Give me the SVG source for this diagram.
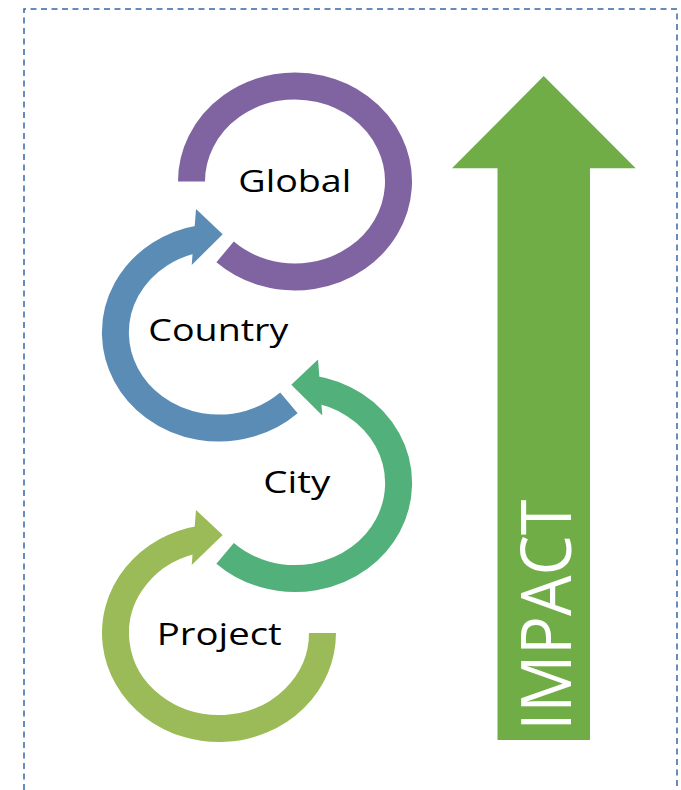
<svg xmlns="http://www.w3.org/2000/svg" width="681" height="790" viewBox="0 0 681 790">
<style>
.ring{fill:none;stroke-width:27;stroke-linecap:butt}
.lbl{font-family:"Open Sans","Noto Sans","Liberation Sans",sans-serif;font-size:31px;fill:#000}
.impact{font-family:"Open Sans","Noto Sans","Liberation Sans",sans-serif;font-size:70px;fill:#ffffff}
</style>
<rect x="0" y="0" width="681" height="790" fill="#ffffff"/>
<path d="M24,790 V9 H677 V790" fill="none" stroke="#3566A6" stroke-width="1.5" stroke-dasharray="6 4.5"/>
<g id="global">
<path class="ring" stroke="#8064A2" d="M191.5,181.5 A103.5,95.5 0 1 1 225.1,251.9"/>
<text class="lbl" x="238.3" y="192.3" textLength="113" lengthAdjust="spacingAndGlyphs">Global</text>
</g>
<g id="country">
<path class="ring" stroke="#5B8CB5" d="M288.9,402.9 A103.5,95.5 0 1 1 201,238.5"/>
<polygon fill="#5B8CB5" points="196,209 222.7,234.3 191.7,265"/>
<text class="lbl" x="148.3" y="340.5" textLength="140" lengthAdjust="spacingAndGlyphs">Country</text>
</g>
<g id="city">
<path class="ring" stroke="#52B07A" d="M225.1,553.4 A103.5,95.5 0 1 0 313,389"/>
<polygon fill="#52B07A" points="318,359.5 291.3,384.8 322.3,415.5"/>
<text class="lbl" x="263.3" y="492.5" textLength="67" lengthAdjust="spacingAndGlyphs">City</text>
</g>
<g id="project">
<path class="ring" stroke="#9BBB59" d="M322.5,633 A103.5,95.5 0 1 1 201,539"/>
<polygon fill="#9BBB59" points="196,510 222.7,535 191.7,565"/>
<text class="lbl" x="156.7" y="644.5" textLength="125" lengthAdjust="spacingAndGlyphs">Project</text>
</g>
<g id="connectors"></g>
<g id="impact">
<polygon fill="#70AD47" points="543.7,76 635.7,168.3 590,168.3 590,740 497.5,740 497.5,168.3 452,168.3"/>
<text class="impact" transform="translate(570.5,730.5) rotate(-90)" x="0" y="0" textLength="231" lengthAdjust="spacingAndGlyphs">IMPACT</text>
</g>
</svg>
